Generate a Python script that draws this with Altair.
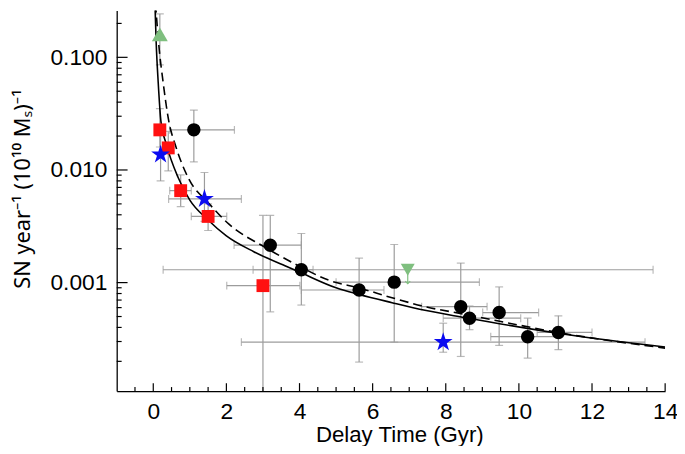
import altair as alt
import pandas as pd

# ---- model curves ----
solid_t = [0.046, 0.08, 0.135, 0.21, 0.36, 0.68, 1.0, 1.5, 2.0, 2.75, 3.65, 4.0, 5.0, 5.63, 6.53, 7.43, 8.51, 11.2, 14.0]
solid_y = [0.30, 0.135, 0.060, 0.027, 0.0168, 0.00857, 0.0054, 0.0036, 0.0026, 0.00188, 0.00139, 0.00124, 0.00090, 0.000785, 0.000664, 0.000568, 0.00049, 0.00035, 0.000268]
dash_t = [0.062, 0.15, 0.27, 0.41, 0.63, 0.95, 1.53, 2.07, 3.02, 3.92, 4.8, 5.63, 6.53, 7.43, 8.51, 11.2, 14.0]
dash_y = [0.30, 0.13, 0.060, 0.0288, 0.0157, 0.0086, 0.00501, 0.0033, 0.00209, 0.00144, 0.00105, 0.000897, 0.000734, 0.000612, 0.000524, 0.000355, 0.000262]

# ---- black circles ----
circ_x = [1.11, 3.20, 4.05, 5.63, 6.59, 8.41, 8.65, 9.46, 10.24, 11.08]
circ_y = [0.0227, 0.00215, 0.0013, 0.00086, 0.00101, 0.000612, 0.000483, 0.000542, 0.000331, 0.000361]
circ_xlo = [0.45, 2.21, 2.73, 4.05, 5.0, 7.34, 7.93, 9.01, 9.23, 10.5]
circ_xhi = [2.22, 4.05, 4.37, 6.31, 8.92, 9.13, 10.05, 10.54, 11.08, 12.0]
circ_ylo = [0.0118, 0.00055, 0.000632, 0.000197, 0.000296, 0.000221, 0.000382, 0.000277, 0.000214, 0.000254]
circ_yhi = [0.034, 0.00395, 0.00273, 0.00165, 0.00218, 0.00149, 0.00062, 0.000916, 0.000483, 0.000507]

# ---- red squares ----
sq_x = [0.18, 0.41, 0.75, 1.50, 3.0]
sq_y = [0.0227, 0.0157, 0.00655, 0.00387, 0.00094]
sq_xlo = [None, None, 0.45, 1.04, 2.01]
sq_xhi = [None, None, 1.04, 2.01, 4.01]
sq_ylo = [0.016, 0.0098, 0.00473, 0.0029, 0.00005]
sq_yhi = [0.035, 0.022, 0.00904, 0.0050, 0.00395]

# ---- blue stars ----
st_x = [0.20, 1.40, 7.93]
st_y = [0.0137, 0.00553, 0.000296]
st_xlo = [None, 0.42, 2.41]
st_xhi = [None, 2.41, 13.45]
st_ylo = [0.008, 0.0035, 0.000241]
st_yhi = [0.022, 0.0095, 0.000436]

# ---- green triangles ----
tu_x = [0.18]
tu_y = [0.16]
tu_ylo = [0.0857]
tu_yhi = [0.243]
td_x = [6.96]
td_y = [0.0013]
td_xlo = [0.27]
td_xhi = [13.67]
td_arrow = [0.00098]

# ---- axis ticks ----
x_major = [0, 2, 4, 6, 8, 10, 12, 14]
x_minor = [v / 2 for v in range(-1, 28) if v % 4 != 0]
y_major = [0.001, 0.01, 0.1]
y_minor = [m * d for d in [0.0001, 0.001, 0.01] for m in range(2, 10)] + [0.2]

XS = alt.Scale(domain=[-1, 14], nice=False, zero=False)
YS = alt.Scale(type="log", domain=[1.09e-4, 0.26], nice=False)
FONT = "Liberation Sans"
XA = alt.Axis(values=x_major, title="Delay Time (Gyr)", grid=False, ticks=False, tickSize=0,
              labelPadding=10, labelFontSize=23, labelFont=FONT, labelColor="black",
              titleFontSize=22.5, titleFont=FONT, titleFontWeight="normal", titleColor="black",
              titleX=286, titleY=44, titleBaseline="middle", titleAlign="center",
              domainColor="black", domainWidth=1.3, labelFlush=False, labelOverlap=False)
YA = alt.Axis(values=y_major, format=".3f", title="SN year⁻¹ (10¹⁰ Mₛ)⁻¹", grid=False, ticks=False,
              tickSize=0, labelPadding=10, labelFontSize=23, labelFont=FONT, labelColor="black",
              titleFontSize=22, titleFont="Noto Sans", titleFontWeight="normal", titleColor="black",
              titleX=-95, titleY=180, titleAngle=270, titleBaseline="middle", titleAlign="center",
              domainColor="black", domainWidth=1.3, labelFlush=False, labelOverlap=False)

GREY = "#9c9c9c"
STAR = "M0,-1L0.2245,-0.309L0.9511,-0.309L0.3633,0.118L0.5878,0.809L0,0.382L-0.5878,0.809L-0.3633,0.118L-0.9511,-0.309L-0.2245,-0.309Z"

# error-bar tables
yerr_rows, xerr_rows = [], []
def add(xs, ys, xlo, xhi, ylo, yhi):
    for i in range(len(xs)):
        if ylo is not None and ylo[i] is not None:
            yerr_rows.append({"x": xs[i], "lo": ylo[i], "hi": yhi[i]})
        if xlo is not None and xlo[i] is not None:
            xerr_rows.append({"y": ys[i], "lo": xlo[i], "hi": xhi[i]})
add(circ_x, circ_y, circ_xlo, circ_xhi, circ_ylo, circ_yhi)
add(sq_x, sq_y, sq_xlo, sq_xhi, sq_ylo, sq_yhi)
add(st_x, st_y, st_xlo, st_xhi, st_ylo, st_yhi)
add(tu_x, tu_y, None, None, tu_ylo, tu_yhi)
add(td_x, td_y, td_xlo, td_xhi, None, None)
yerr = pd.DataFrame(yerr_rows)
xerr = pd.DataFrame(xerr_rows)
ycaps = pd.concat([yerr[["x", "lo"]].rename(columns={"lo": "v"}), yerr[["x", "hi"]].rename(columns={"hi": "v"})])
xcaps = pd.concat([xerr[["y", "lo"]].rename(columns={"lo": "v"}), xerr[["y", "hi"]].rename(columns={"hi": "v"})])

def X(f):
    return alt.X(f, type="quantitative", scale=XS, axis=XA)
def Y(f):
    return alt.Y(f, type="quantitative", scale=YS, axis=YA)

layers = []
layers.append(alt.Chart(yerr).mark_rule(color=GREY, strokeWidth=1.2, clip=True).encode(x=X("x"), y=Y("lo"), y2="hi"))
layers.append(alt.Chart(xerr).mark_rule(color=GREY, strokeWidth=1.2, clip=True).encode(y=Y("y"), x=X("lo"), x2="hi"))
layers.append(alt.Chart(ycaps).mark_tick(color=GREY, orient="horizontal", size=8, thickness=1.2, clip=True).encode(x=X("x"), y=Y("v")))
layers.append(alt.Chart(xcaps).mark_tick(color=GREY, orient="vertical", size=8, thickness=1.2, clip=True).encode(y=Y("y"), x=X("v")))

solid = pd.DataFrame({"t": solid_t, "y": solid_y})
dash = pd.DataFrame({"t": dash_t, "y": dash_y})
layers.append(alt.Chart(solid).mark_line(color="black", strokeWidth=1.6, interpolate="monotone", clip=True).encode(x=X("t"), y=Y("y")))
layers.append(alt.Chart(dash).mark_line(color="black", strokeWidth=1.6, strokeDash=[9, 5], interpolate="monotone", clip=True).encode(x=X("t"), y=Y("y")))

# upper-limit arrow for the down triangle
arr = pd.DataFrame({"x": td_x, "y": td_y, "a": td_arrow})
GREEN = "#7fbf7f"
layers.append(alt.Chart(arr).mark_rule(color=GREEN, strokeWidth=1.2).encode(x=X("x"), y=Y("y"), y2="a"))
layers.append(alt.Chart(arr).mark_point(shape="M-1,-1L0,0L1,-1", filled=False, color=GREEN, strokeWidth=1.2, size=25, opacity=1).encode(x=X("x"), y=Y("a")))

def pts(xs, ys, shape, color, size):
    df = pd.DataFrame({"x": xs, "y": ys})
    return alt.Chart(df).mark_point(shape=shape, filled=True, color=color, size=size, opacity=1, strokeWidth=0).encode(x=X("x"), y=Y("y"))

layers.append(pts(tu_x, tu_y, "triangle-up", GREEN, 260))
layers.append(pts(td_x, td_y, "triangle-down", GREEN, 200))
layers.append(pts(circ_x, circ_y, "circle", "black", 185))
layers.append(pts(sq_x, sq_y, "square", "#ff1010", 170))
layers.append(pts(st_x, st_y, STAR, "#0a0af0", 400))

# inward axis ticks
def xt(vals, ln):
    df = pd.DataFrame({"v": vals})
    return alt.Chart(df).mark_rule(color="black", strokeWidth=1.2).encode(x=X("v"), y=alt.value(385), y2=alt.value(385 - ln))
def yt(vals, ln):
    df = pd.DataFrame({"v": vals})
    return alt.Chart(df).mark_rule(color="black", strokeWidth=1.2).encode(y=Y("v"), x=alt.value(0), x2=alt.value(ln))
layers += [xt(x_major, 8), xt(x_minor, 4), yt(y_major, 11), yt(y_minor, 5)]

chart = alt.layer(*layers).properties(
    width=555, height=385,
    autosize=alt.AutoSizeParams(type="none"),
    padding={"left": 110, "top": 0, "right": 12, "bottom": 53},
    background="white",
).configure_view(stroke=None)

chart.save("out.html", embed_options={"renderer": "svg", "actions": False})
